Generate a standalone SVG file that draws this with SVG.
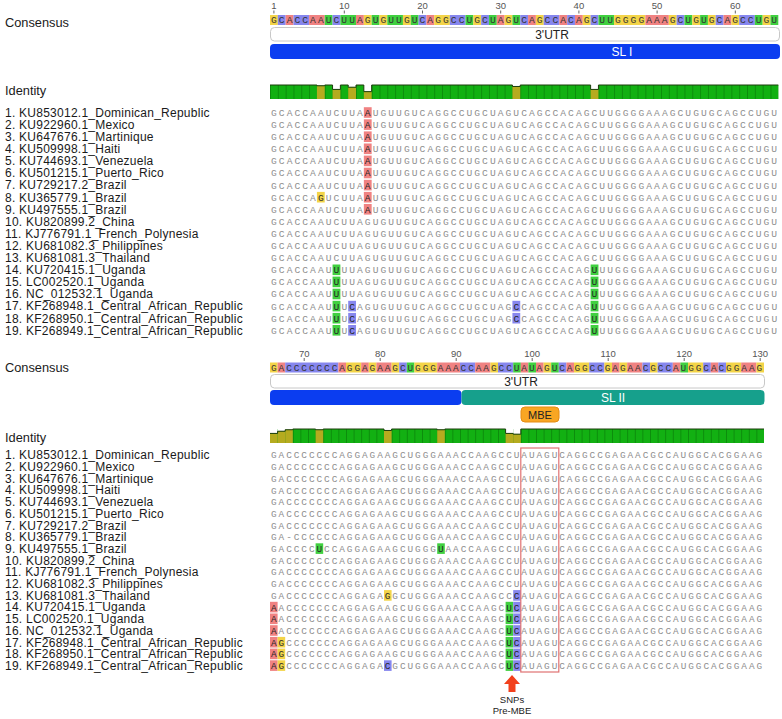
<svg xmlns="http://www.w3.org/2000/svg" width="782" height="719" viewBox="0 0 782 719">
<style>
.lbl{font-family:"Liberation Sans",Arial,sans-serif;font-size:12px;letter-spacing:0.25px;fill:#1a1a1a}
.hd{font-family:"Liberation Sans",Arial,sans-serif;font-size:12.8px;fill:#1a1a1a}
.sT{font-family:"Liberation Mono",monospace;font-size:9.6px;letter-spacing:2.06px;fill:#8e8e8e}
.sB{font-family:"Liberation Mono",monospace;font-size:9.4px;letter-spacing:1.96px;fill:#8e8e8e}
.cT{font-family:"Liberation Mono",monospace;font-size:9.6px;letter-spacing:2.06px;fill:#333}
.cB{font-family:"Liberation Mono",monospace;font-size:9.4px;letter-spacing:1.96px;fill:#333}
.k{fill:#262626}
.a{fill:#f08282}.c{fill:#8686ee}.g{fill:#f3d448}.u{fill:#40d040}
.tk{font-family:"Liberation Sans",Arial,sans-serif;font-size:9.5px;fill:#555;text-anchor:middle}
.sn{font-family:"Liberation Sans",Arial,sans-serif;font-size:9.5px;fill:#222;text-anchor:middle}
.tl{stroke:#666;stroke-width:1}
.ann{font-family:"Liberation Sans",Arial,sans-serif;font-size:12px;text-anchor:middle}
.grn{fill:#12b012}.olv{fill:#b5ab1f}
.ol{fill:none;stroke:#1d3d0d;stroke-width:1}
</style>
<defs>
<pattern id="sepT" patternUnits="userSpaceOnUse" x="270" y="0" width="7.82" height="719"><rect width="0.8" height="719" fill="#0a850a"/></pattern>
<pattern id="sepB" patternUnits="userSpaceOnUse" x="270" y="0" width="7.6" height="719"><rect width="0.8" height="719" fill="#0a850a"/></pattern>
</defs>
<rect width="782" height="719" fill="#fff"/>

<g id="top-header">
<text class="hd" x="5" y="26.5">Consensus</text>
<g class="tk-group">
<text class="tk" x="273.9" y="9">1</text><text class="tk" x="344.3" y="9">10</text><text class="tk" x="422.5" y="9">20</text><text class="tk" x="500.7" y="9">30</text><text class="tk" x="578.9" y="9">40</text><text class="tk" x="657.1" y="9">50</text><text class="tk" x="735.3" y="9">60</text>
<path class="tl" d="M273.9,10.5V13.5M344.3,10.5V13.5M422.5,10.5V13.5M500.7,10.5V13.5M578.9,10.5V13.5M657.1,10.5V13.5M735.3,10.5V13.5"/>
</g>
<g transform="translate(0,15)">
<rect class="g" x="270" y="0" width="7.82" height="10"/><rect class="c" x="277.82" y="0" width="7.82" height="10"/><rect class="a" x="285.64" y="0" width="7.82" height="10"/><rect class="c" x="293.46" y="0" width="15.64" height="10"/><rect class="a" x="309.1" y="0" width="15.64" height="10"/><rect class="u" x="324.74" y="0" width="7.82" height="10"/><rect class="c" x="332.56" y="0" width="7.82" height="10"/><rect class="u" x="340.38" y="0" width="15.64" height="10"/><rect class="a" x="356.02" y="0" width="7.82" height="10"/><rect class="g" x="363.84" y="0" width="7.82" height="10"/><rect class="u" x="371.66" y="0" width="7.82" height="10"/><rect class="g" x="379.48" y="0" width="7.82" height="10"/><rect class="u" x="387.3" y="0" width="15.64" height="10"/><rect class="g" x="402.94" y="0" width="7.82" height="10"/><rect class="u" x="410.76" y="0" width="7.82" height="10"/><rect class="c" x="418.58" y="0" width="7.82" height="10"/><rect class="a" x="426.4" y="0" width="7.82" height="10"/><rect class="g" x="434.22" y="0" width="15.64" height="10"/><rect class="c" x="449.86" y="0" width="15.64" height="10"/><rect class="u" x="465.5" y="0" width="7.82" height="10"/><rect class="g" x="473.32" y="0" width="7.82" height="10"/><rect class="c" x="481.14" y="0" width="7.82" height="10"/><rect class="u" x="488.96" y="0" width="7.82" height="10"/><rect class="a" x="496.78" y="0" width="7.82" height="10"/><rect class="g" x="504.6" y="0" width="7.82" height="10"/><rect class="u" x="512.42" y="0" width="7.82" height="10"/><rect class="c" x="520.24" y="0" width="7.82" height="10"/><rect class="a" x="528.06" y="0" width="7.82" height="10"/><rect class="g" x="535.88" y="0" width="7.82" height="10"/><rect class="c" x="543.7" y="0" width="15.64" height="10"/><rect class="a" x="559.34" y="0" width="7.82" height="10"/><rect class="c" x="567.16" y="0" width="7.82" height="10"/><rect class="a" x="574.98" y="0" width="7.82" height="10"/><rect class="g" x="582.8" y="0" width="7.82" height="10"/><rect class="c" x="590.62" y="0" width="7.82" height="10"/><rect class="u" x="598.44" y="0" width="15.64" height="10"/><rect class="g" x="614.08" y="0" width="31.28" height="10"/><rect class="a" x="645.36" y="0" width="23.46" height="10"/><rect class="g" x="668.82" y="0" width="7.82" height="10"/><rect class="c" x="676.64" y="0" width="7.82" height="10"/><rect class="u" x="684.46" y="0" width="7.82" height="10"/><rect class="g" x="692.28" y="0" width="7.82" height="10"/><rect class="u" x="700.1" y="0" width="7.82" height="10"/><rect class="g" x="707.92" y="0" width="7.82" height="10"/><rect class="c" x="715.74" y="0" width="7.82" height="10"/><rect class="a" x="723.56" y="0" width="7.82" height="10"/><rect class="g" x="731.38" y="0" width="7.82" height="10"/><rect class="c" x="739.2" y="0" width="15.64" height="10"/><rect class="u" x="754.84" y="0" width="7.82" height="10"/><rect class="g" x="762.66" y="0" width="7.82" height="10"/><rect class="u" x="770.48" y="0" width="7.82" height="10"/>
<text class="cT" x="271.03" y="8.4">GCACCAAUCUUAGUGUUGUCAGGCCUGCUAGUCAGCCACAGCUUGGGGAAAGCUGUGCAGCCUGU</text>
</g>
</g>

<g id="top-annotations">
<rect x="270.5" y="27.5" width="509" height="13.5" rx="4" fill="#fff" stroke="#c8c8c8"/>
<text class="ann" x="552" y="38.5" fill="#222">3'UTR</text>
<rect x="270" y="44" width="510" height="15" rx="4" fill="#0b3df0"/>
<text class="ann" x="622" y="55.8" fill="#fff">SL I</text>
</g>

<g id="top-identity">
<text class="hd" x="5" y="95">Identity</text>
<rect class="grn" x="270" y="85" width="508.3" height="14"/>
<rect x="270" y="85" width="508.3" height="14" fill="url(#sepT)"/>
<rect x="316.92" y="84.5" width="7.82" height="1.24" fill="#fff"/><rect class="olv" x="316.92" y="85.74" width="7.82" height="13.26"/>
<rect x="332.56" y="84.5" width="7.82" height="4.92" fill="#fff"/><rect class="olv" x="332.56" y="89.42" width="7.82" height="9.58"/>
<rect x="348.2" y="84.5" width="7.82" height="2.71" fill="#fff"/><rect class="olv" x="348.2" y="87.21" width="7.82" height="11.79"/>
<rect x="363.84" y="84.5" width="7.82" height="7.13" fill="#fff"/><rect class="olv" x="363.84" y="91.63" width="7.82" height="7.37"/>
<rect x="512.42" y="84.5" width="7.82" height="1.97" fill="#fff"/><rect class="olv" x="512.42" y="86.47" width="7.82" height="12.53"/>
<rect x="590.62" y="84.5" width="7.82" height="4.92" fill="#fff"/><rect class="olv" x="590.62" y="89.42" width="7.82" height="9.58"/>
<path class="ol" d="M270,85H316.92V85.74H324.74V85H332.56V89.42H340.38V85H348.2V87.21H356.02V85H363.84V91.63H371.66V85H512.42V86.47H520.24V85H590.62V89.42H598.44V85H778.3"/>
</g>

<g id="top-rows">
<g id="t1" transform="translate(0,112.5)"><text class="lbl" x="5" y="4.3">1. KU853012.1_Dominican_Republic</text><rect class="a" x="363.84" y="-5.3" width="7.82" height="10.6"/><text class="sT" x="271.03" y="3.4">GCACCAAUCUUA<tspan class="k">A</tspan>UGUUGUCAGGCCUGCUAGUCAGCCACAGCUUGGGGAAAGCUGUGCAGCCUGU</text></g>
<g id="t2" transform="translate(0,124.6)"><text class="lbl" x="5" y="4.3">2. KU922960.1_Mexico</text><rect class="a" x="363.84" y="-5.3" width="7.82" height="10.6"/><text class="sT" x="271.03" y="3.4">GCACCAAUCUUA<tspan class="k">A</tspan>UGUUGUCAGGCCUGCUAGUCAGCCACAGCUUGGGGAAAGCUGUGCAGCCUGU</text></g>
<g id="t3" transform="translate(0,136.7)"><text class="lbl" x="5" y="4.3">3. KU647676.1_Martinique</text><rect class="a" x="363.84" y="-5.3" width="7.82" height="10.6"/><text class="sT" x="271.03" y="3.4">GCACCAAUCUUA<tspan class="k">A</tspan>UGUUGUCAGGCCUGCUAGUCAGCCACAGCUUGGGGAAAGCUGUGCAGCCUGU</text></g>
<g id="t4" transform="translate(0,148.8)"><text class="lbl" x="5" y="4.3">4. KU509998.1_Haiti</text><rect class="a" x="363.84" y="-5.3" width="7.82" height="10.6"/><text class="sT" x="271.03" y="3.4">GCACCAAUCUUA<tspan class="k">A</tspan>UGUUGUCAGGCCUGCUAGUCAGCCACAGCUUGGGGAAAGCUGUGCAGCCUGU</text></g>
<g id="t5" transform="translate(0,160.9)"><text class="lbl" x="5" y="4.3">5. KU744693.1_Venezuela</text><rect class="a" x="363.84" y="-5.3" width="7.82" height="10.6"/><text class="sT" x="271.03" y="3.4">GCACCAAUCUUA<tspan class="k">A</tspan>UGUUGUCAGGCCUGCUAGUCAGCCACAGCUUGGGGAAAGCUGUGCAGCCUGU</text></g>
<g id="t6" transform="translate(0,173)"><text class="lbl" x="5" y="4.3">6. KU501215.1_Puerto_Rico</text><rect class="a" x="363.84" y="-5.3" width="7.82" height="10.6"/><text class="sT" x="271.03" y="3.4">GCACCAAUCUUA<tspan class="k">A</tspan>UGUUGUCAGGCCUGCUAGUCAGCCACAGCUUGGGGAAAGCUGUGCAGCCUGU</text></g>
<g id="t7" transform="translate(0,185.1)"><text class="lbl" x="5" y="4.3">7. KU729217.2_Brazil</text><rect class="a" x="363.84" y="-5.3" width="7.82" height="10.6"/><text class="sT" x="271.03" y="3.4">GCACCAAUCUUA<tspan class="k">A</tspan>UGUUGUCAGGCCUGCUAGUCAGCCACAGCUUGGGGAAAGCUGUGCAGCCUGU</text></g>
<g id="t8" transform="translate(0,197.2)"><text class="lbl" x="5" y="4.3">8. KU365779.1_Brazil</text><rect class="g" x="316.92" y="-5.3" width="7.82" height="10.6"/><rect class="a" x="363.84" y="-5.3" width="7.82" height="10.6"/><text class="sT" x="271.03" y="3.4">GCACCA<tspan class="k">G</tspan>UCUUA<tspan class="k">A</tspan>UGUUGUCAGGCCUGCUAGUCAGCCACAGCUUGGGGAAAGCUGUGCAGCCUGU</text></g>
<g id="t9" transform="translate(0,209.3)"><text class="lbl" x="5" y="4.3">9. KU497555.1_Brazil</text><rect class="a" x="363.84" y="-5.3" width="7.82" height="10.6"/><text class="sT" x="271.03" y="3.4">GCACCAAUCUUA<tspan class="k">A</tspan>UGUUGUCAGGCCUGCUAGUCAGCCACAGCUUGGGGAAAGCUGUGCAGCCUGU</text></g>
<g id="t10" transform="translate(0,221.4)"><text class="lbl" x="5" y="4.3">10. KU820899.2_China</text><text class="sT" x="271.03" y="3.4">GCACCAAUCUUAGUGUUGUCAGGCCUGCUAGUCAGCCACAGCUUGGGGAAAGCUGUGCAGCCUGU</text></g>
<g id="t11" transform="translate(0,233.5)"><text class="lbl" x="5" y="4.3">11. KJ776791.1_French_Polynesia</text><text class="sT" x="271.03" y="3.4">GCACCAAUCUUAGUGUUGUCAGGCCUGCUAGUCAGCCACAGCUUGGGGAAAGCUGUGCAGCCUGU</text></g>
<g id="t12" transform="translate(0,245.6)"><text class="lbl" x="5" y="4.3">12. KU681082.3_Philippines</text><text class="sT" x="271.03" y="3.4">GCACCAAUCUUAGUGUUGUCAGGCCUGCUAGUCAGCCACAGCUUGGGGAAAGCUGUGCAGCCUGU</text></g>
<g id="t13" transform="translate(0,257.7)"><text class="lbl" x="5" y="4.3">13. KU681081.3_Thailand</text><text class="sT" x="271.03" y="3.4">GCACCAAUCUUAGUGUUGUCAGGCCUGCUAGUCAGCCACAGCUUGGGGAAAGCUGUGCAGCCUGU</text></g>
<g id="t14" transform="translate(0,269.8)"><text class="lbl" x="5" y="4.3">14. KU720415.1_Uganda</text><rect class="u" x="332.56" y="-5.3" width="7.82" height="10.6"/><rect class="u" x="590.62" y="-5.3" width="7.82" height="10.6"/><text class="sT" x="271.03" y="3.4">GCACCAAU<tspan class="k">U</tspan>UUAGUGUUGUCAGGCCUGCUAGUCAGCCACAG<tspan class="k">U</tspan>UUGGGGAAAGCUGUGCAGCCUGU</text></g>
<g id="t15" transform="translate(0,281.9)"><text class="lbl" x="5" y="4.3">15. LC002520.1_Uganda</text><rect class="u" x="332.56" y="-5.3" width="7.82" height="10.6"/><rect class="u" x="590.62" y="-5.3" width="7.82" height="10.6"/><text class="sT" x="271.03" y="3.4">GCACCAAU<tspan class="k">U</tspan>UUAGUGUUGUCAGGCCUGCUAGUCAGCCACAG<tspan class="k">U</tspan>UUGGGGAAAGCUGUGCAGCCUGU</text></g>
<g id="t16" transform="translate(0,294)"><text class="lbl" x="5" y="4.3">16. NC_012532.1_Uganda</text><rect class="u" x="332.56" y="-5.3" width="7.82" height="10.6"/><rect class="u" x="590.62" y="-5.3" width="7.82" height="10.6"/><text class="sT" x="271.03" y="3.4">GCACCAAU<tspan class="k">U</tspan>UUAGUGUUGUCAGGCCUGCUAGUCAGCCACAG<tspan class="k">U</tspan>UUGGGGAAAGCUGUGCAGCCUGU</text></g>
<g id="t17" transform="translate(0,306.1)"><text class="lbl" x="5" y="4.3">17. KF268948.1_Central_African_Republic</text><rect class="u" x="332.56" y="-5.3" width="7.82" height="10.6"/><rect class="c" x="348.2" y="-5.3" width="7.82" height="10.6"/><rect class="c" x="512.42" y="-5.3" width="7.82" height="10.6"/><rect class="u" x="590.62" y="-5.3" width="7.82" height="10.6"/><text class="sT" x="271.03" y="3.4">GCACCAAU<tspan class="k">U</tspan>U<tspan class="k">C</tspan>AGUGUUGUCAGGCCUGCUAG<tspan class="k">C</tspan>CAGCCACAG<tspan class="k">U</tspan>UUGGGGAAAGCUGUGCAGCCUGU</text></g>
<g id="t18" transform="translate(0,318.2)"><text class="lbl" x="5" y="4.3">18. KF268950.1_Central_African_Republic</text><rect class="u" x="332.56" y="-5.3" width="7.82" height="10.6"/><rect class="c" x="348.2" y="-5.3" width="7.82" height="10.6"/><rect class="c" x="512.42" y="-5.3" width="7.82" height="10.6"/><rect class="u" x="590.62" y="-5.3" width="7.82" height="10.6"/><text class="sT" x="271.03" y="3.4">GCACCAAU<tspan class="k">U</tspan>U<tspan class="k">C</tspan>AGUGUUGUCAGGCCUGCUAG<tspan class="k">C</tspan>CAGCCACAG<tspan class="k">U</tspan>UUGGGGAAAGCUGUGCAGCCUGU</text></g>
<g id="t19" transform="translate(0,330.3)"><text class="lbl" x="5" y="4.3">19. KF268949.1_Central_African_Republic</text><rect class="u" x="332.56" y="-5.3" width="7.82" height="10.6"/><rect class="c" x="348.2" y="-5.3" width="7.82" height="10.6"/><rect class="u" x="590.62" y="-5.3" width="7.82" height="10.6"/><text class="sT" x="271.03" y="3.4">GCACCAAU<tspan class="k">U</tspan>U<tspan class="k">C</tspan>AGUGUUGUCAGGCCUGCUAGUCAGCCACAG<tspan class="k">U</tspan>UUGGGGAAAGCUGUGCAGCCUGU</text></g>
</g>

<g id="bottom-header">
<text class="hd" x="5" y="372">Consensus</text>
<text class="tk" x="304.2" y="356.5">70</text><text class="tk" x="380.2" y="356.5">80</text><text class="tk" x="456.2" y="356.5">90</text><text class="tk" x="532.2" y="356.5">100</text><text class="tk" x="608.2" y="356.5">110</text><text class="tk" x="684.2" y="356.5">120</text><text class="tk" x="760.2" y="356.5">130</text>
<path class="tl" d="M304.2,358V361M380.2,358V361M456.2,358V361M532.2,358V361M608.2,358V361M684.2,358V361M760.2,358V361"/>
<g transform="translate(0,362.5)">
<rect class="g" x="270" y="0" width="7.6" height="10"/><rect class="a" x="277.6" y="0" width="7.6" height="10"/><rect class="c" x="285.2" y="0" width="53.2" height="10"/><rect class="a" x="338.4" y="0" width="7.6" height="10"/><rect class="g" x="346" y="0" width="15.2" height="10"/><rect class="a" x="361.2" y="0" width="7.6" height="10"/><rect class="g" x="368.8" y="0" width="7.6" height="10"/><rect class="a" x="376.4" y="0" width="15.2" height="10"/><rect class="g" x="391.6" y="0" width="7.6" height="10"/><rect class="c" x="399.2" y="0" width="7.6" height="10"/><rect class="u" x="406.8" y="0" width="7.6" height="10"/><rect class="g" x="414.4" y="0" width="22.8" height="10"/><rect class="a" x="437.2" y="0" width="22.8" height="10"/><rect class="c" x="460" y="0" width="15.2" height="10"/><rect class="a" x="475.2" y="0" width="15.2" height="10"/><rect class="g" x="490.4" y="0" width="7.6" height="10"/><rect class="c" x="498" y="0" width="15.2" height="10"/><rect class="u" x="513.2" y="0" width="7.6" height="10"/><rect class="a" x="520.8" y="0" width="7.6" height="10"/><rect class="u" x="528.4" y="0" width="7.6" height="10"/><rect class="a" x="536" y="0" width="7.6" height="10"/><rect class="g" x="543.6" y="0" width="7.6" height="10"/><rect class="u" x="551.2" y="0" width="7.6" height="10"/><rect class="c" x="558.8" y="0" width="7.6" height="10"/><rect class="a" x="566.4" y="0" width="7.6" height="10"/><rect class="g" x="574" y="0" width="15.2" height="10"/><rect class="c" x="589.2" y="0" width="15.2" height="10"/><rect class="g" x="604.4" y="0" width="7.6" height="10"/><rect class="a" x="612" y="0" width="7.6" height="10"/><rect class="g" x="619.6" y="0" width="7.6" height="10"/><rect class="a" x="627.2" y="0" width="15.2" height="10"/><rect class="c" x="642.4" y="0" width="7.6" height="10"/><rect class="g" x="650" y="0" width="7.6" height="10"/><rect class="c" x="657.6" y="0" width="15.2" height="10"/><rect class="a" x="672.8" y="0" width="7.6" height="10"/><rect class="u" x="680.4" y="0" width="7.6" height="10"/><rect class="g" x="688" y="0" width="15.2" height="10"/><rect class="c" x="703.2" y="0" width="7.6" height="10"/><rect class="a" x="710.8" y="0" width="7.6" height="10"/><rect class="c" x="718.4" y="0" width="7.6" height="10"/><rect class="g" x="726" y="0" width="15.2" height="10"/><rect class="a" x="741.2" y="0" width="15.2" height="10"/><rect class="g" x="756.4" y="0" width="7.6" height="10"/>
<text class="cB" x="270.98" y="8.4">GACCCCCCCAGGAGAAGCUGGGAAACCAAGCCUAUAGUCAGGCCGAGAACGCCAUGGCACGGAAG</text>
</g>
</g>

<g id="bottom-annotations">
<rect x="270.5" y="374.5" width="494" height="13.5" rx="4" fill="#fff" stroke="#c8c8c8"/>
<text class="ann" x="521" y="385.5" fill="#222">3'UTR</text>
<rect x="270" y="390" width="191.5" height="15" rx="4" fill="#0b3df0"/>
<rect x="461.5" y="390" width="303" height="15" rx="4" fill="#16a08c"/>
<text class="ann" x="613" y="401.8" fill="#fff">SL II</text>
<g id="mbe"><rect x="521" y="407" width="38" height="15" rx="4" fill="#f8a623" stroke="#e58c12"/><text class="ann" x="540" y="418.5" fill="#222" style="font-size:11px">MBE</text></g>
</g>

<g id="bottom-identity">
<text class="hd" x="5" y="441.5">Identity</text>
<rect class="grn" x="270" y="429" width="494" height="14"/>
<rect x="270" y="429" width="494" height="14" fill="url(#sepB)"/>
<rect x="270" y="428.5" width="7.6" height="4.92" fill="#fff"/><rect class="olv" x="270" y="433.42" width="7.6" height="9.58"/>
<rect x="277.6" y="428.5" width="7.6" height="2.71" fill="#fff"/><rect class="olv" x="277.6" y="431.21" width="7.6" height="11.79"/>
<rect x="285.2" y="428.5" width="7.6" height="1.24" fill="#fff"/><rect class="olv" x="285.2" y="429.74" width="7.6" height="13.26"/>
<rect x="315.6" y="428.5" width="7.6" height="1.24" fill="#fff"/><rect class="olv" x="315.6" y="429.74" width="7.6" height="13.26"/>
<rect x="384" y="428.5" width="7.6" height="1.97" fill="#fff"/><rect class="olv" x="384" y="430.47" width="7.6" height="12.53"/>
<rect x="437.2" y="428.5" width="7.6" height="1.24" fill="#fff"/><rect class="olv" x="437.2" y="429.74" width="7.6" height="13.26"/>
<rect x="505.6" y="428.5" width="7.6" height="4.92" fill="#fff"/><rect class="olv" x="505.6" y="433.42" width="7.6" height="9.58"/>
<rect x="513.2" y="428.5" width="7.6" height="5.66" fill="#fff"/><rect class="olv" x="513.2" y="434.16" width="7.6" height="8.84"/>
<path class="ol" d="M270,433.42H277.6V431.21H285.2V429.74H292.8V429H315.6V429.74H323.2V429H384V430.47H391.6V429H437.2V429.74H444.8V429H505.6V433.42H513.2V434.16H520.8V429H764"/>
</g>

<g id="bottom-rows">
<g id="b1" transform="translate(0,455)"><text class="lbl" x="5" y="4.3">1. KU853012.1_Dominican_Republic</text><text class="sB" x="270.98" y="3.4">GACCCCCCCAGGAGAAGCUGGGAAACCAAGCCUAUAGUCAGGCCGAGAACGCCAUGGCACGGAAG</text></g>
<g id="b2" transform="translate(0,466.7)"><text class="lbl" x="5" y="4.3">2. KU922960.1_Mexico</text><text class="sB" x="270.98" y="3.4">GACCCCCCCAGGAGAAGCUGGGAAACCAAGCCUAUAGUCAGGCCGAGAACGCCAUGGCACGGAAG</text></g>
<g id="b3" transform="translate(0,478.4)"><text class="lbl" x="5" y="4.3">3. KU647676.1_Martinique</text><text class="sB" x="270.98" y="3.4">GACCCCCCCAGGAGAAGCUGGGAAACCAAGCCUAUAGUCAGGCCGAGAACGCCAUGGCACGGAAG</text></g>
<g id="b4" transform="translate(0,490.1)"><text class="lbl" x="5" y="4.3">4. KU509998.1_Haiti</text><text class="sB" x="270.98" y="3.4">GACCCCCCCAGGAGAAGCUGGGAAACCAAGCCUAUAGUCAGGCCGAGAACGCCAUGGCACGGAAG</text></g>
<g id="b5" transform="translate(0,501.8)"><text class="lbl" x="5" y="4.3">5. KU744693.1_Venezuela</text><text class="sB" x="270.98" y="3.4">GACCCCCCCAGGAGAAGCUGGGAAACCAAGCCUAUAGUCAGGCCGAGAACGCCAUGGCACGGAAG</text></g>
<g id="b6" transform="translate(0,513.5)"><text class="lbl" x="5" y="4.3">6. KU501215.1_Puerto_Rico</text><text class="sB" x="270.98" y="3.4">GACCCCCCCAGGAGAAGCUGGGAAACCAAGCCUAUAGUCAGGCCGAGAACGCCAUGGCACGGAAG</text></g>
<g id="b7" transform="translate(0,525.2)"><text class="lbl" x="5" y="4.3">7. KU729217.2_Brazil</text><text class="sB" x="270.98" y="3.4">GACCCCCCCAGGAGAAGCUGGGAAACCAAGCCUAUAGUCAGGCCGAGAACGCCAUGGCACGGAAG</text></g>
<g id="b8" transform="translate(0,536.9)"><text class="lbl" x="5" y="4.3">8. KU365779.1_Brazil</text><text class="sB" x="270.98" y="3.4">GA-CCCCCCAGGAGAAGCUGGGAAACCAAGCCUAUAGUCAGGCCGAGAACGCCAUGGCACGGAAG</text></g>
<g id="b9" transform="translate(0,548.6)"><text class="lbl" x="5" y="4.3">9. KU497555.1_Brazil</text><rect class="u" x="315.6" y="-5.3" width="7.6" height="10.6"/><rect class="u" x="437.2" y="-5.3" width="7.6" height="10.6"/><text class="sB" x="270.98" y="3.4">GACCCC<tspan class="k">U</tspan>CCAGGAGAAGCUGGG<tspan class="k">U</tspan>AACCAAGCCUAUAGUCAGGCCGAGAACGCCAUGGCACGGAAG</text></g>
<g id="b10" transform="translate(0,560.3)"><text class="lbl" x="5" y="4.3">10. KU820899.2_China</text><text class="sB" x="270.98" y="3.4">GACCCCCCCAGGAGAAGCUGGGAAACCAAGCCUAUAGUCAGGCCGAGAACGCCAUGGCACGGAAG</text></g>
<g id="b11" transform="translate(0,572)"><text class="lbl" x="5" y="4.3">11. KJ776791.1_French_Polynesia</text><text class="sB" x="270.98" y="3.4">GACCCCCCCAGGAGAAGCUGGGAAACCAAGCCUAUAGUCAGGCCGAGAACGCCAUGGCACGGAAG</text></g>
<g id="b12" transform="translate(0,583.7)"><text class="lbl" x="5" y="4.3">12. KU681082.3_Philippines</text><text class="sB" x="270.98" y="3.4">GACCCCCCCAGGAGAAGCUGGGAAACCAAGCCUAUAGUCAGGCCGAGAACGCCAUGGCACGGAAG</text></g>
<g id="b13" transform="translate(0,595.4)"><text class="lbl" x="5" y="4.3">13. KU681081.3_Thailand</text><rect class="g" x="384" y="-5.3" width="7.6" height="10.6"/><rect class="c" x="513.2" y="-5.3" width="7.6" height="10.6"/><text class="sB" x="270.98" y="3.4">GACCCCCCCAGGAGA<tspan class="k">G</tspan>GCUGGGAAACCAAGCC<tspan class="k">C</tspan>AUAGUCAGGCCGAGAACGCCAUGGCACGGAAG</text></g>
<g id="b14" transform="translate(0,607.1)"><text class="lbl" x="5" y="4.3">14. KU720415.1_Uganda</text><rect class="a" x="270" y="-5.3" width="7.6" height="10.6"/><rect class="u" x="505.6" y="-5.3" width="7.6" height="10.6"/><rect class="c" x="513.2" y="-5.3" width="7.6" height="10.6"/><text class="sB" x="270.98" y="3.4"><tspan class="k">A</tspan>ACCCCCCCAGGAGAAGCUGGGAAACCAAGC<tspan class="k">UC</tspan>AUAGUCAGGCCGAGAACGCCAUGGCACGGAAG</text></g>
<g id="b15" transform="translate(0,618.8)"><text class="lbl" x="5" y="4.3">15. LC002520.1_Uganda</text><rect class="a" x="270" y="-5.3" width="7.6" height="10.6"/><rect class="u" x="505.6" y="-5.3" width="7.6" height="10.6"/><rect class="c" x="513.2" y="-5.3" width="7.6" height="10.6"/><text class="sB" x="270.98" y="3.4"><tspan class="k">A</tspan>ACCCCCCCAGGAGAAGCUGGGAAACCAAGC<tspan class="k">UC</tspan>AUAGUCAGGCCGAGAACGCCAUGGCACGGAAG</text></g>
<g id="b16" transform="translate(0,630.5)"><text class="lbl" x="5" y="4.3">16. NC_012532.1_Uganda</text><rect class="a" x="270" y="-5.3" width="7.6" height="10.6"/><rect class="u" x="505.6" y="-5.3" width="7.6" height="10.6"/><rect class="c" x="513.2" y="-5.3" width="7.6" height="10.6"/><text class="sB" x="270.98" y="3.4"><tspan class="k">A</tspan>ACCCCCCCAGGAGAAGCUGGGAAACCAAGC<tspan class="k">UC</tspan>AUAGUCAGGCCGAGAACGCCAUGGCACGGAAG</text></g>
<g id="b17" transform="translate(0,642.2)"><text class="lbl" x="5" y="4.3">17. KF268948.1_Central_African_Republic</text><rect class="a" x="270" y="-5.3" width="7.6" height="10.6"/><rect class="g" x="277.6" y="-5.3" width="7.6" height="10.6"/><rect class="u" x="505.6" y="-5.3" width="7.6" height="10.6"/><rect class="c" x="513.2" y="-5.3" width="7.6" height="10.6"/><text class="sB" x="270.98" y="3.4"><tspan class="k">AG</tspan>CCCCCCCAGGAGAAGCUGGGAAACCAAGC<tspan class="k">UC</tspan>AUAGUCAGGCCGAGAACGCCAUGGCACGGAAG</text></g>
<g id="b18" transform="translate(0,653.9)"><text class="lbl" x="5" y="4.3">18. KF268950.1_Central_African_Republic</text><rect class="a" x="270" y="-5.3" width="7.6" height="10.6"/><rect class="g" x="277.6" y="-5.3" width="7.6" height="10.6"/><rect class="u" x="505.6" y="-5.3" width="7.6" height="10.6"/><rect class="c" x="513.2" y="-5.3" width="7.6" height="10.6"/><text class="sB" x="270.98" y="3.4"><tspan class="k">AG</tspan>CCCCCCCAGGAGAAGCUGGGAAACCAAGC<tspan class="k">UC</tspan>AUAGUCAGGCCGAGAACGCCAUGGCACGGAAG</text></g>
<g id="b19" transform="translate(0,665.6)"><text class="lbl" x="5" y="4.3">19. KF268949.1_Central_African_Republic</text><rect class="a" x="270" y="-5.3" width="7.6" height="10.6"/><rect class="g" x="277.6" y="-5.3" width="7.6" height="10.6"/><rect class="c" x="384" y="-5.3" width="7.6" height="10.6"/><rect class="u" x="505.6" y="-5.3" width="7.6" height="10.6"/><rect class="c" x="513.2" y="-5.3" width="7.6" height="10.6"/><text class="sB" x="270.98" y="3.4"><tspan class="k">AG</tspan>CCCCCCCAGGAGA<tspan class="k">C</tspan>GCUGGGAAACCAAGC<tspan class="k">UC</tspan>AUAGUCAGGCCGAGAACGCCAUGGCACGGAAG</text></g>
</g>

<g id="connectors">
<rect x="520.8" y="448" width="38" height="224" fill="none" stroke="#e07272" stroke-width="1.2"/>
<polygon points="512,675 520,684 515.5,684 515.5,692 508.5,692 508.5,684 504,684" fill="#f2401c"/>
</g>
<g id="snp-label">
<text class="sn" x="512" y="703">SNPs</text>
<text class="sn" x="512" y="714">Pre-MBE</text>
</g>
</svg>
